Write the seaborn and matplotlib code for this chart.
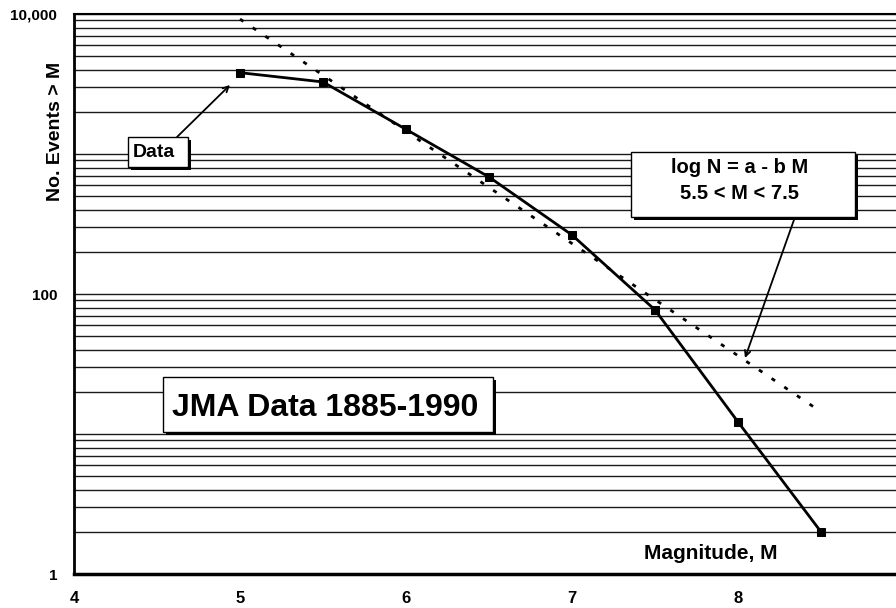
import numpy as np
import pandas as pd
import seaborn as sns
import matplotlib.pyplot as plt
from matplotlib.patches import Rectangle
from matplotlib.ticker import LogLocator, FixedLocator, FuncFormatter, NullFormatter

# =========================
# DATA
# =========================
magnitude = [5.0, 5.5, 6.0, 6.5, 7.0, 7.5, 8.0, 8.5]
n_events = [3810, 3270, 1500, 685, 264, 77, 12.2, 2.0]

# straight-line fit log N = a - b M (end points)
fit_m = [5.0, 8.5]
fit_n = [9200, 14.4]

x_ticks = [4, 5, 6, 7, 8]
y_ticks = [1, 100, 10000]

W, H = 896, 608

# =========================
# STYLE
# =========================
sns.set_style("white")
plt.rcParams["font.family"] = ["Liberation Sans", "DejaVu Sans"]
plt.rcParams["font.weight"] = "bold"
for key in ["text.color", "axes.labelcolor", "xtick.color", "ytick.color"]:
    plt.rcParams[key] = "black"

fig = plt.figure(figsize=(W / 100, H / 100), dpi=100)
ax = fig.add_axes([74 / W, (H - 574) / H, 830 / W, 560 / H])

df = pd.DataFrame({"M": magnitude, "N": n_events})
fit = pd.DataFrame({"M": fit_m, "N": fit_n})

sns.lineplot(data=fit, x="M", y="N", ax=ax, color="black", lw=2,
             linestyle=(0, (1.5, 4)), zorder=4)
sns.lineplot(data=df, x="M", y="N", ax=ax, color="black", lw=2,
             marker="s", markersize=6, markeredgecolor="black", zorder=5)

ax.set_yscale("log")
ax.set_ylim(1, 10000)
ax.set_xlim(4, 9)

ax.yaxis.set_major_locator(FixedLocator(y_ticks))
ax.yaxis.set_major_formatter(FuncFormatter(lambda v, p: f"{v:,.0f}"))
ax.yaxis.set_minor_locator(LogLocator(base=10, subs=np.arange(1, 10), numticks=20))
ax.yaxis.set_minor_formatter(NullFormatter())
ax.set_xticks(x_ticks)

ax.grid(False)
ax.grid(True, which="both", axis="y", color="#1a1a1a", lw=1)
ax.tick_params(axis="y", which="minor", length=0)
ax.tick_params(axis="y", which="major", direction="out", length=4,
               width=1, pad=8, labelsize=11)
ax.tick_params(axis="x", direction="inout", length=7, width=0.8,
               pad=9, labelsize=12)
for lab in ax.get_xticklabels() + ax.get_yticklabels():
    lab.set_fontweight("bold")

ax.spines["bottom"].set_linewidth(2.5)
ax.spines["left"].set_linewidth(2)
ax.spines["top"].set_linewidth(1.5)
ax.spines["right"].set_visible(False)
for s in ax.spines.values():
    s.set_color("black")

ax.set_xlabel("")
ax.set_ylabel("")


# =========================
# ANNOTATIONS (pixel positions from the image, top-left origin)
# =========================
def fx(px):
    return px / W


def fy(py):
    return 1 - py / H


def shadow_box(x0, y0, x1, y1, off=3):
    fig.patches.append(Rectangle((fx(x0 + off), fy(y1 + off)), (x1 - x0) / W,
                                 (y1 - y0) / H, transform=fig.transFigure,
                                 facecolor="black", edgecolor="none", zorder=6))
    fig.patches.append(Rectangle((fx(x0), fy(y1)), (x1 - x0) / W, (y1 - y0) / H,
                                 transform=fig.transFigure, facecolor="white",
                                 edgecolor="black", lw=1, zorder=7))


shadow_box(128, 137, 188, 167)
shadow_box(631, 152, 855, 217)
shadow_box(163, 377, 493, 432)

fig.text(fx(133), fy(157), "Data", fontsize=14, fontweight="bold",
         ha="left", va="baseline", zorder=8)
fig.text(fx(740), fy(173), "log N = a - b M", fontsize=14.5, fontweight="bold",
         ha="center", va="baseline", zorder=8)
fig.text(fx(740), fy(199), "5.5 < M < 7.5", fontsize=14.5, fontweight="bold",
         ha="center", va="baseline", zorder=8)
fig.text(fx(325), fy(416), "JMA Data 1885-1990", fontsize=23, fontweight="bold",
         ha="center", va="baseline", zorder=8)
fig.text(fx(777), fy(559), "Magnitude, M", fontsize=15, fontweight="bold",
         ha="right", va="baseline", zorder=8)
fig.text(fx(55), fy(131), "No. Events > M", fontsize=14, fontweight="bold",
         rotation=90, ha="center", va="center")

arrow = dict(arrowstyle="->", color="black", lw=1.3, shrinkA=0, shrinkB=0,
             mutation_scale=10)
ax.annotate("", xy=(230, H - 85), xytext=(177, H - 137),
            xycoords="figure pixels", textcoords="figure pixels",
            arrowprops=arrow, zorder=8)
ax.annotate("", xy=(745, H - 358), xytext=(795, H - 217),
            xycoords="figure pixels", textcoords="figure pixels",
            arrowprops=arrow, zorder=8)

plt.savefig("out.png", dpi=100)
